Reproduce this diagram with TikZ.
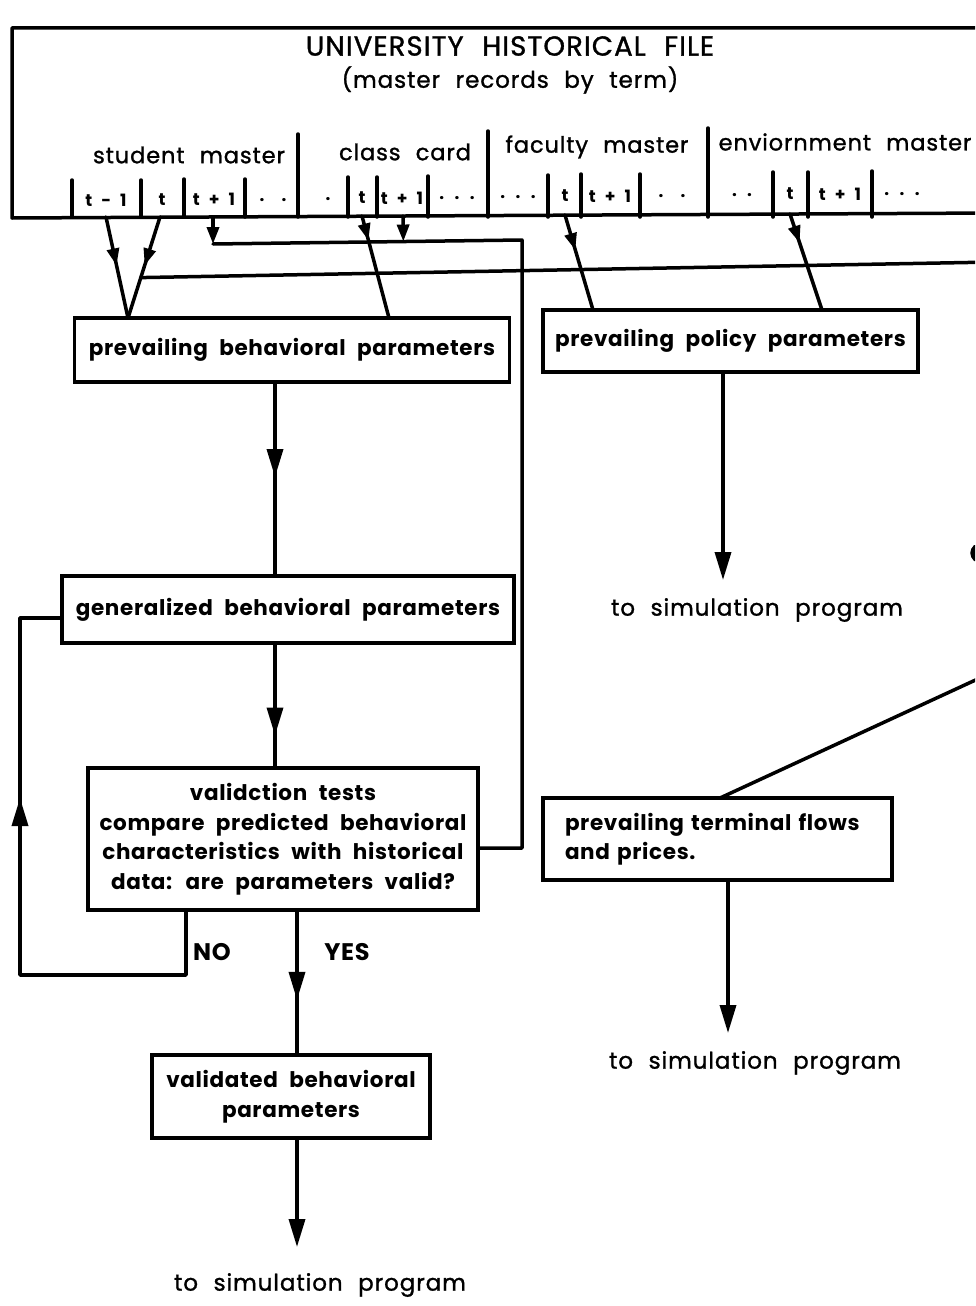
\documentclass[tikz,border=0pt]{standalone}
\usepackage{fontspec}
\setmainfont{Poppins}
\newfontfamily\lett[LetterSpace=4,WordSpace=2.2,FakeBold=1.2]{Poppins}
\newfontfamily\lettb[LetterSpace=3,WordSpace=2.2]{Poppins}
\usetikzlibrary{arrows.meta,decorations.markings,calc}

\tikzset{
  wire/.style={line width=3.5pt, line join=round, line cap=round},
  box/.style={draw, line width=3.5pt, rectangle, outer sep=0pt, inner sep=0pt,
    font=\lettb\bfseries\fontsize{21.5}{29.5}\selectfont},
  bigtip/.style={-{Triangle[length=28pt,width=16pt]}},
  smalltip/.style={-{Triangle[length=17pt,width=12pt]}},
  midbig/.style={postaction={decorate}, decoration={markings,
    mark=at position #1 with {\arrow{Triangle[length=28pt,width=16pt]}}}},
  midsmall/.style={postaction={decorate}, decoration={markings,
    mark=at position #1 with {\arrow{Triangle[length=17pt,width=12pt]}}}},
  celltext/.style={font=\lettb\bfseries\fontsize{17}{19}\selectfont, inner sep=0pt},
  secttext/.style={font=\lett\fontsize{22.5}{25}\selectfont, inner sep=0pt},
  freetext/.style={font=\lett\fontsize{23}{26}\selectfont, inner sep=0pt},
  answer/.style={font=\lettb\bfseries\fontsize{24}{26}\selectfont, inner sep=0pt},
}

\begin{document}
\begin{tikzpicture}[x=1pt,y=-1pt]
\useasboundingbox (0,0) rectangle (975,1306);
\clip (0,0) rectangle (975,1306);
\fill[white] (0,0) rectangle (975,1306);

% ---- historical file frame ----
\draw[wire] (995,28) -- (12,28) -- (12,218) -- (995,213);
\node[font=\lett\fontsize{27.5}{30}\selectfont, inner sep=0pt] (title) at (510,46) {UNIVERSITY HISTORICAL FILE};
\node[font=\lett\fontsize{23}{26}\selectfont, inner sep=0pt] (subtitle) at (510,80) {(master records by term)};

\node[secttext] (sm) at (189,155) {student master};
\node[secttext] (cc) at (405,152) {class card};
\node[secttext] (fm) at (597,147) {faculty master};
\node[secttext] (em) at (845,142) {enviornment master};

% section dividers
\foreach \x/\t in {298/134, 488/131, 708/128}
  \draw[wire] (\x,\t) -- (\x,217);
% term cell dividers
\foreach \x/\t in {72/180, 141/180, 184/179, 245/179, 348/177, 377/177, 428/176,
                   548/175, 581/174, 640/174, 773/172, 808/172, 872/171}
  \draw[wire] (\x,\t) -- (\x,217);

% term cell labels
\node[celltext] (s1) at (106,200) {t - 1};
\node[celltext] (s2) at (162,200) {t};
\node[celltext] (s3) at (214,199) {t + 1};
\node[celltext] (s4) at (273,200) {.\quad .};
\node[celltext] (c0) at (328,199) {.};
\node[celltext] (c1) at (362,198) {t};
\node[celltext] (c2) at (402,198) {t + 1};
\node[celltext] (c3) at (457,198) {. . .};
\node[celltext] (f0) at (518,197) {. . .};
\node[celltext] (f1) at (565,196) {t};
\node[celltext] (f2) at (610,196) {t + 1};
\node[celltext] (f3) at (672,196) {.\quad .};
\node[celltext] (e0) at (742,195) {. .};
\node[celltext] (e1) at (790,194) {t};
\node[celltext] (e2) at (840,194) {t + 1};
\node[celltext] (e3) at (902,194) {. . .};

% record taps
\coordinate (sTm1) at (106,217);
\coordinate (sT)   at (160,217);
\coordinate (sTp)  at (213,217);
\coordinate (cT)   at (362,216);
\coordinate (cTp)  at (403,216);
\coordinate (fT)   at (565,215);
\coordinate (eT)   at (790,214);

% ---- boxes ----
\node[box, minimum width=435pt, minimum height=64pt] (behav) at (292,350)
  {prevailing behavioral parameters};
\node[box, minimum width=375pt, minimum height=62pt] (policy) at (730.5,341)
  {prevailing policy parameters};
\node[box, minimum width=452pt, minimum height=67pt] (gen) at (288,609.5)
  {generalized behavioral parameters};
\node[box, minimum width=390pt, minimum height=142pt, align=center] (valid) at (283,839)
  {validction tests\\compare predicted behavioral\\characteristics with historical\\data: are parameters valid?};
\node[box, text width=305pt, inner xsep=22pt, minimum height=82pt, align=left] (term) at (717.5,839)
  {prevailing terminal flows\\and prices.};
\node[box, minimum width=278pt, minimum height=83pt, align=center] (validated) at (291,1096.5)
  {validated behavioral\\parameters};

% joins on box tops
\coordinate (bJ1) at (128,318);
\coordinate (bJ2) at (389,318);
\coordinate (pJ1) at (593,310);
\coordinate (pJ2) at (822,310);

% columns of the vertical flows
\coordinate (colA) at (275,0);
\coordinate (colB) at (297,0);
\coordinate (colN) at (186,0);
\coordinate (colP) at (723,0);
\coordinate (colT) at (728,0);

% ---- record flows into the parameter boxes ----
\draw[wire, midsmall=0.48] (sTm1) -- (bJ1);
\draw[wire, midsmall=0.48] (sT) -- (bJ1);
\draw[wire, midsmall=0.24] (cT) -- (bJ2);
\draw[wire, midsmall=0.37] (fT) -- (pJ1);
\draw[wire, midsmall=0.30] (eT) -- (pJ2);

% branch of the current term running off to the right
\coordinate (hJ) at ($(sT)!0.6!(bJ1)$);
\coordinate (hR) at (995,262);
\draw[wire] (hJ) -- (hR);

% next-term history feeding the validation tests
\coordinate (fbA) at (213,244);
\coordinate (fbB) at (522,240);
\coordinate (fbC) at (522,848);
\draw[wire] (fbA) -- (fbB) -- (fbC) -- (fbC -| valid.east);
\draw[wire, smalltip] (sTp) -- (fbA);
\draw[wire, smalltip] (cTp) -- ($(fbA)!(cTp)!(fbB)$);

% ---- main chain ----
\draw[wire, midbig=0.49] (behav.south -| colA) -- (gen.north -| colA);
\draw[wire, midbig=0.74] (gen.south -| colA) -- (valid.north -| colA);
\draw[wire, midbig=0.62] (valid.south -| colB) -- (validated.north -| colB);
\coordinate (simV) at (297,1247);
\draw[wire, bigtip] (validated.south -| colB) -- (simV);
\node[freetext] (simVtext) at (320,1285) {to simulation program};

\node[answer] (no) at (212,952) {NO};
\node[answer] (yes) at (347,952) {YES};

% rejection loop back to the generalized parameters
\coordinate (lpA) at (186,975);
\coordinate (lpB) at (20,975);
\coordinate (lpC) at (20,618);
\draw[wire, midbig=408pt] (valid.south -| colN) -- (lpA) -- (lpB) -- (lpC) -- (lpC -| gen.west);

% policy parameters out
\coordinate (simP) at (723,580);
\draw[wire, bigtip] (policy.south -| colP) -- (simP);
\node[freetext] (simPtext) at (757,610) {to simulation program};

% terminal flows in and out
\coordinate (tR) at (995,671);
\coordinate (tJ) at (720,798);
\draw[wire] (tR) -- (tJ);
\coordinate (simT) at (728,1033);
\draw[wire, bigtip] (term.south -| colT) -- (simT);
\node[freetext] (simTtext) at (755,1063) {to simulation program};

% stray mark at the right edge
\fill (974,545) .. controls (969,550) and (969,556) .. (974,561) -- (977,561) -- (977,545) -- cycle;
\end{tikzpicture}
\end{document}
